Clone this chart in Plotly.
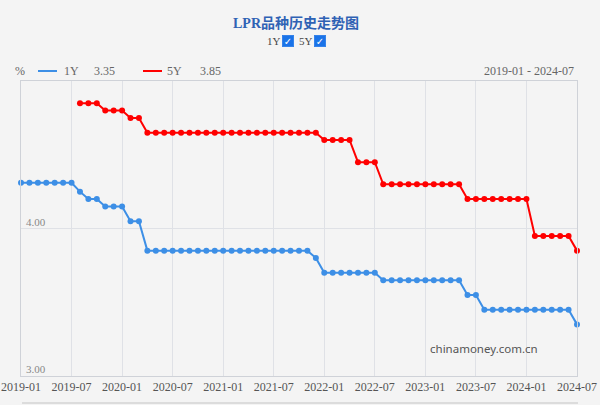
import plotly.graph_objects as go

months = [f"{y}-{m:02d}" for y in range(2019, 2025) for m in range(1, 13)][:67]

lpr_1y = ([4.31] * 7 + [4.25] + [4.20] * 2 + [4.15] * 3 + [4.05] * 2 + [3.85] * 20 +
          [3.80] + [3.70] * 7 + [3.65] * 10 + [3.55] * 2 + [3.45] * 11 + [3.35])
lpr_5y = ([None] * 7 + [4.85] * 3 + [4.80] * 3 + [4.75] * 2 + [4.65] * 21 + [4.60] * 4 +
          [4.45] * 3 + [4.30] * 10 + [4.20] * 8 + [3.95] * 5 + [3.85])
tick_months = months[::6]
y_ticks = [3, 4]

W, H = 600, 405
L, R, T, B = 21, 577, 81, 376


def px(x):
    return (x - L) / (R - L)


def py(y):
    return (B - y) / (B - T)


BLUE = "#3d8fe6"
RED = "#ff0000"
BG = "#f4f4f4"
SERIF = "Liberation Serif, Noto Sans CJK SC"

fig = go.Figure()
fig.add_trace(go.Scatter(x=months, y=lpr_1y, mode="lines+markers", name="1Y",
                         line=dict(color=BLUE, width=2), marker=dict(size=6, color=BLUE),
                         cliponaxis=False))
fig.add_trace(go.Scatter(x=months, y=lpr_5y, mode="lines+markers", name="5Y",
                         line=dict(color=RED, width=2), marker=dict(size=6, color=RED),
                         cliponaxis=False))


def text_ann(x, y, text, anchor="left", size=12, color="#666", family=SERIF, **kw):
    d = dict(x=px(x), y=py(y), text=text, showarrow=False, xanchor=anchor, yanchor="middle",
             xref="paper", yref="paper", font=dict(size=size, color=color, family=family))
    d.update(kw)
    return d


ann = [
    text_ann(296, 24, "<b>LPR品种历史走势图</b>", "center", 14, "#2f62b4"),
    text_ann(266, 41, "1Y", "left", 11, "#444", borderpad=0),
    text_ann(298, 41, "5Y", "left", 11, "#444", borderpad=0),
    text_ann(20, 71, "%", "center"),
    text_ann(62, 71, "1Y"),
    text_ann(92, 71, f"{lpr_1y[-1]:.2f}"),
    text_ann(165, 71, "5Y"),
    text_ann(198, 71, f"{lpr_5y[-1]:.2f}"),
    text_ann(576, 71, f"{months[0]} - {months[-1]}", "right"),
    text_ann(484, 348, "chinamoney.com.cn", "center", 11.5, "#555", "Noto Sans"),
]
for bx in (287.5, 320):
    ann.append(text_ann(bx, 40.5, "<b>✓</b>", "center", 10, "white", "DejaVu Sans",
                        bgcolor="#1a73e8", width=10, height=10, borderpad=0.5,
                        bordercolor="#1a73e8", borderwidth=0.5))
# y-axis labels drawn inside the plot, just above their gridlines
for v in y_ticks:
    ann.append(dict(x=px(24), y=v, xref="paper", yref="y", text=f"{v:.2f}", showarrow=False,
                    xanchor="left", yanchor="bottom", yshift=-1,
                    font=dict(size=11, color="#888", family=SERIF)))

shapes = [
    dict(type="line", xref="paper", yref="paper", x0=px(38), x1=px(57), y0=py(71), y1=py(71),
         line=dict(color=BLUE, width=2)),
    dict(type="line", xref="paper", yref="paper", x0=px(143), x1=px(162), y0=py(71), y1=py(71),
         line=dict(color=RED, width=2)),
    dict(type="line", xref="paper", yref="paper", x0=px(22), x1=px(578), y0=py(403), y1=py(403),
         line=dict(color="#dcdcdc", width=2)),
]

fig.update_layout(
    width=W, height=H,
    margin=dict(l=L, r=W - R, t=T, b=H - B, autoexpand=False),
    paper_bgcolor=BG, plot_bgcolor=BG,
    showlegend=False,
    annotations=ann, shapes=shapes,
    xaxis=dict(type="category", categoryorder="array", categoryarray=months,
               range=[0, len(months) - 1], tickvals=tick_months, ticktext=tick_months,
               showgrid=True, gridcolor="#dfe1e6", gridwidth=1, automargin=False,
               ticklabeloverflow="allow",
               showline=True, linecolor="#cfd2d8", linewidth=1, mirror=True,
               ticks="", tickfont=dict(size=12, color="#555", family=SERIF), zeroline=False),
    yaxis=dict(range=[3, 5], tickvals=y_ticks, automargin=False, showticklabels=False,
               showgrid=True, gridcolor="#dfe1e6", gridwidth=1,
               showline=True, linecolor="#cfd2d8", linewidth=1, mirror=True,
               ticks="", zeroline=False),
)

fig.write_html("out.html", config={"displayModeBar": False})
